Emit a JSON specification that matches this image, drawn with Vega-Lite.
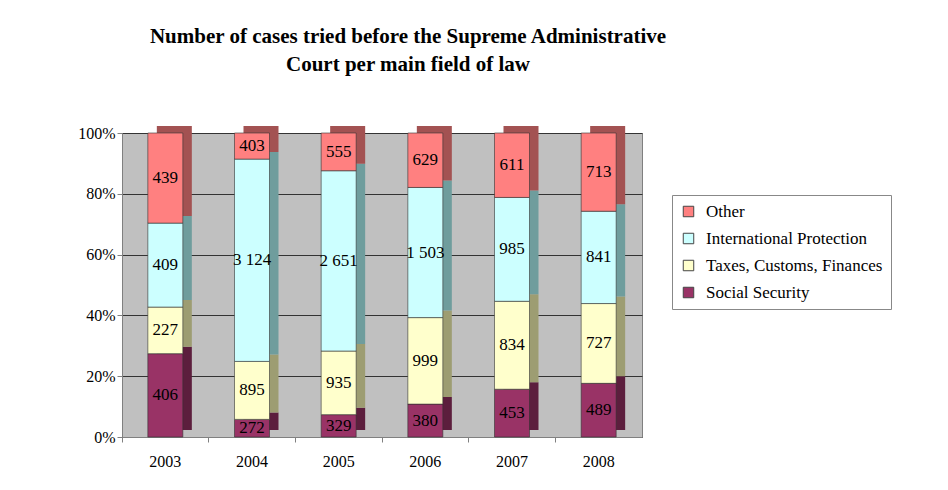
{
  "$schema": "https://vega.github.io/schema/vega-lite/v6.json",
  "width": 520,
  "height": 304,
  "autosize": "none",
  "padding": {"left": 122, "top": 133, "right": 306, "bottom": 53},
  "background": "white",
  "title": {
    "text": ["Number of cases tried before the Supreme Administrative", "Court per main field of law"],
    "font": "Liberation Serif",
    "fontSize": 21,
    "fontWeight": "bold",
    "color": "black",
    "anchor": "middle",
    "dx": 26,
    "offset": 50,
    "lineHeight": 28
  },
  "data": {
    "values": [
      {"year": "2003", "field": "Social Security", "order": 1, "cases": 406, "label": "406"},
      {"year": "2003", "field": "Taxes, Customs, Finances", "order": 2, "cases": 227, "label": "227"},
      {"year": "2003", "field": "International Protection", "order": 3, "cases": 409, "label": "409"},
      {"year": "2003", "field": "Other", "order": 4, "cases": 439, "label": "439"},
      {"year": "2004", "field": "Social Security", "order": 1, "cases": 272, "label": "272"},
      {"year": "2004", "field": "Taxes, Customs, Finances", "order": 2, "cases": 895, "label": "895"},
      {"year": "2004", "field": "International Protection", "order": 3, "cases": 3124, "label": "3 124"},
      {"year": "2004", "field": "Other", "order": 4, "cases": 403, "label": "403"},
      {"year": "2005", "field": "Social Security", "order": 1, "cases": 329, "label": "329"},
      {"year": "2005", "field": "Taxes, Customs, Finances", "order": 2, "cases": 935, "label": "935"},
      {"year": "2005", "field": "International Protection", "order": 3, "cases": 2651, "label": "2 651"},
      {"year": "2005", "field": "Other", "order": 4, "cases": 555, "label": "555"},
      {"year": "2006", "field": "Social Security", "order": 1, "cases": 380, "label": "380"},
      {"year": "2006", "field": "Taxes, Customs, Finances", "order": 2, "cases": 999, "label": "999"},
      {"year": "2006", "field": "International Protection", "order": 3, "cases": 1503, "label": "1 503"},
      {"year": "2006", "field": "Other", "order": 4, "cases": 629, "label": "629"},
      {"year": "2007", "field": "Social Security", "order": 1, "cases": 453, "label": "453"},
      {"year": "2007", "field": "Taxes, Customs, Finances", "order": 2, "cases": 834, "label": "834"},
      {"year": "2007", "field": "International Protection", "order": 3, "cases": 985, "label": "985"},
      {"year": "2007", "field": "Other", "order": 4, "cases": 611, "label": "611"},
      {"year": "2008", "field": "Social Security", "order": 1, "cases": 489, "label": "489"},
      {"year": "2008", "field": "Taxes, Customs, Finances", "order": 2, "cases": 727, "label": "727"},
      {"year": "2008", "field": "International Protection", "order": 3, "cases": 841, "label": "841"},
      {"year": "2008", "field": "Other", "order": 4, "cases": 713, "label": "713"}
    ]
  },
  "transform": [
    {"stack": "cases", "groupby": ["year"], "sort": [{"field": "order", "order": "ascending"}], "offset": "normalize", "as": ["y0", "y1"]},
    {"calculate": "(datum.y0 + datum.y1) / 2", "as": "ymid"}
  ],
  "encoding": {
    "x": {
      "field": "year",
      "type": "ordinal",
      "title": null,
      "scale": {"paddingInner": 0, "paddingOuter": 0},
      "axis": {
        "labelAngle": 0,
        "labelFont": "Times New Roman, Liberation Serif, serif",
        "labelFontSize": 16,
        "labelColor": "black",
        "labelPadding": 11,
        "bandPosition": 0,
        "tickSize": 5,
        "tickColor": "#808080",
        "domainColor": "#808080",
        "grid": false
      }
    }
  },
  "layer": [
    {
      "mark": {"type": "bar", "size": 35, "xOffset": 9, "x2Offset": 9, "yOffset": -7, "y2Offset": -7},
      "encoding": {
        "y": {"field": "y0", "type": "quantitative", "scale": {"domain": [0, 1]}},
        "y2": {"field": "y1"},
        "color": {
          "field": "field",
          "type": "nominal",
          "scale": {
            "domain": ["Other", "International Protection", "Taxes, Customs, Finances", "Social Security"],
            "range": ["#a35252", "#6f9d9d", "#9d9d72", "#5c1e3d"]
          },
          "legend": null
        }
      }
    },
    {
      "mark": {"type": "bar", "size": 35, "stroke": "#333333", "strokeWidth": 0.6},
      "encoding": {
        "y": {
          "field": "y0",
          "type": "quantitative",
          "scale": {"domain": [0, 1]},
          "title": null,
          "axis": {
            "format": "%",
            "values": [0, 0.2, 0.4, 0.6, 0.8, 1],
            "labelFont": "Times New Roman, Liberation Serif, serif",
            "labelFontSize": 16,
            "labelColor": "black",
            "tickSize": 5,
            "tickColor": "#808080",
            "domainColor": "#808080",
            "gridColor": "#333333",
            "gridWidth": 1,
            "labelPadding": 2
          }
        },
        "y2": {"field": "y1"},
        "color": {
          "field": "field",
          "type": "nominal",
          "scale": {
            "domain": ["Other", "International Protection", "Taxes, Customs, Finances", "Social Security"],
            "range": ["#ff8080", "#ccffff", "#ffffcc", "#993366"]
          },
          "legend": {
            "title": null,
            "orient": "none",
            "legendX": 550,
            "legendY": 62,
            "strokeColor": "#888888",
            "fillColor": "white",
            "padding": 8,
            "symbolType": "square",
            "symbolSize": 110,
            "symbolStrokeColor": "#444444",
            "symbolStrokeWidth": 1,
            "labelFont": "Times New Roman, Liberation Serif, serif",
            "labelFontSize": 17,
            "labelColor": "black",
            "labelLimit": 300,
            "rowPadding": 9,
            "labelOffset": 9
          }
        }
      }
    },
    {
      "mark": {"type": "text", "font": "Times New Roman, Liberation Serif, serif", "fontSize": 17, "color": "black"},
      "encoding": {
        "y": {"field": "ymid", "type": "quantitative", "scale": {"domain": [0, 1]}},
        "text": {"field": "label"}
      }
    }
  ],
  "resolve": {"scale": {"color": "independent"}},
  "config": {
    "font": "Liberation Serif",
    "view": {"fill": "#c0c0c0", "stroke": "#808080"}
  }
}
